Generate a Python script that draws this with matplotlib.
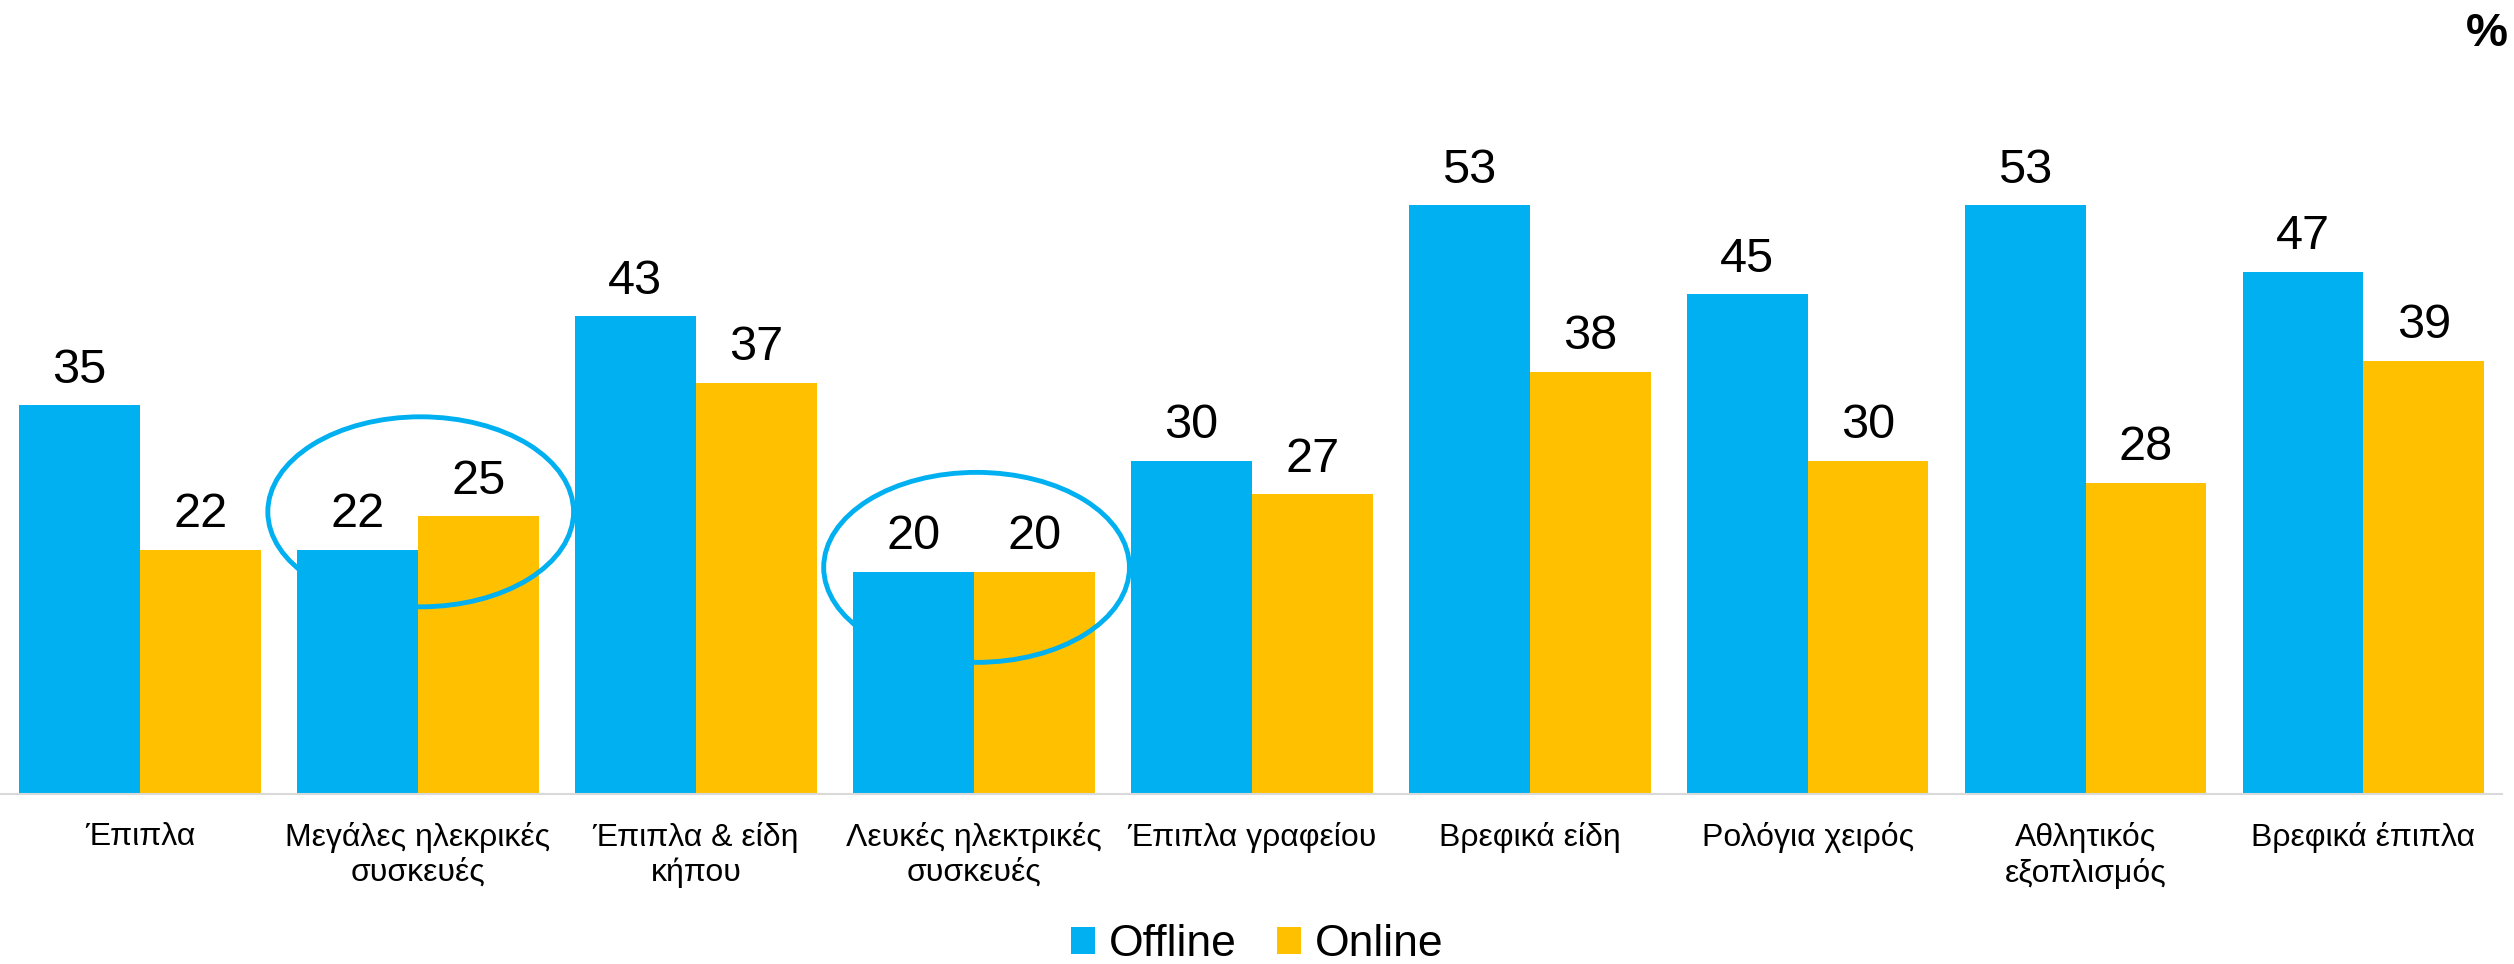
import numpy as np
from matplotlib import pyplot as plt
from matplotlib.patches import Ellipse

categories = ["Έπιπλα", "Μεγάλες ηλεκρικές\nσυσκευές", "Έπιπλα & είδη\nκήπου",
              "Λευκές ηλεκτρικές\nσυσκευές", "Έπιπλα γραφείου", "Βρεφικά είδη",
              "Ρολόγια χειρός", "Αθλητικός\nεξοπλισμός", "Βρεφικά έπιπλα"]
offline = [35, 22, 43, 20, 30, 53, 45, 53, 47]
online = [22, 25, 37, 20, 27, 38, 30, 28, 39]
highlighted = [1, 3]

BLUE = '#00b0f0'
YELLOW = '#ffc000'

def main():
    fig = plt.figure(figsize=(25.14, 9.64), dpi=100)
    ax = fig.add_axes([0.0004, 0.1763, 0.995, 0.6916])

    x = np.arange(len(categories))
    w = 0.435
    b1 = ax.bar(x - w / 2, offline, w, color=BLUE, label='Offline')
    b2 = ax.bar(x + w / 2, online, w, color=YELLOW, label='Online')

    for bars in (b1, b2):
        ax.bar_label(bars, padding=9, fontsize=35, family='Liberation Sans')

    # circles around the highlighted groups
    for i in highlighted:
        cy = max(offline[i], online[i]) + 0.4
        ax.add_patch(Ellipse((i + 0.01, cy), 1.10, 17.1, fill=False,
                             edgecolor=BLUE, lw=3.5, zorder=5))

    ax.set_xlim(-0.5, 8.5)
    ax.set_ylim(0, 60)
    ax.set_xticks(x)
    ax.set_xticklabels(categories, fontsize=23,
                       family=['Liberation Sans Narrow', 'Liberation Sans'],
                       linespacing=1.2)
    ax.tick_params(axis='x', length=0, pad=20)
    ax.set_yticks([])
    for s in ('left', 'right', 'top'):
        ax.spines[s].set_visible(False)
    ax.spines['bottom'].set_color('#d9d9d9')
    ax.spines['bottom'].set_linewidth(1.5)

    fig.text(0.9976, 0.988, '%', ha='right', va='top', fontsize=34,
             fontweight='bold', family='Liberation Sans')

    fig.legend(handles=[b1, b2], loc='center', bbox_to_anchor=(0.5, 0.02),
               ncol=2, frameon=False, prop={'family': 'Liberation Sans', 'size': 32},
               handlelength=0.55, handleheight=0.55, handletextpad=0.3,
               columnspacing=0.9)

    fig.savefig('out.png', dpi=100, facecolor='white')

main()
